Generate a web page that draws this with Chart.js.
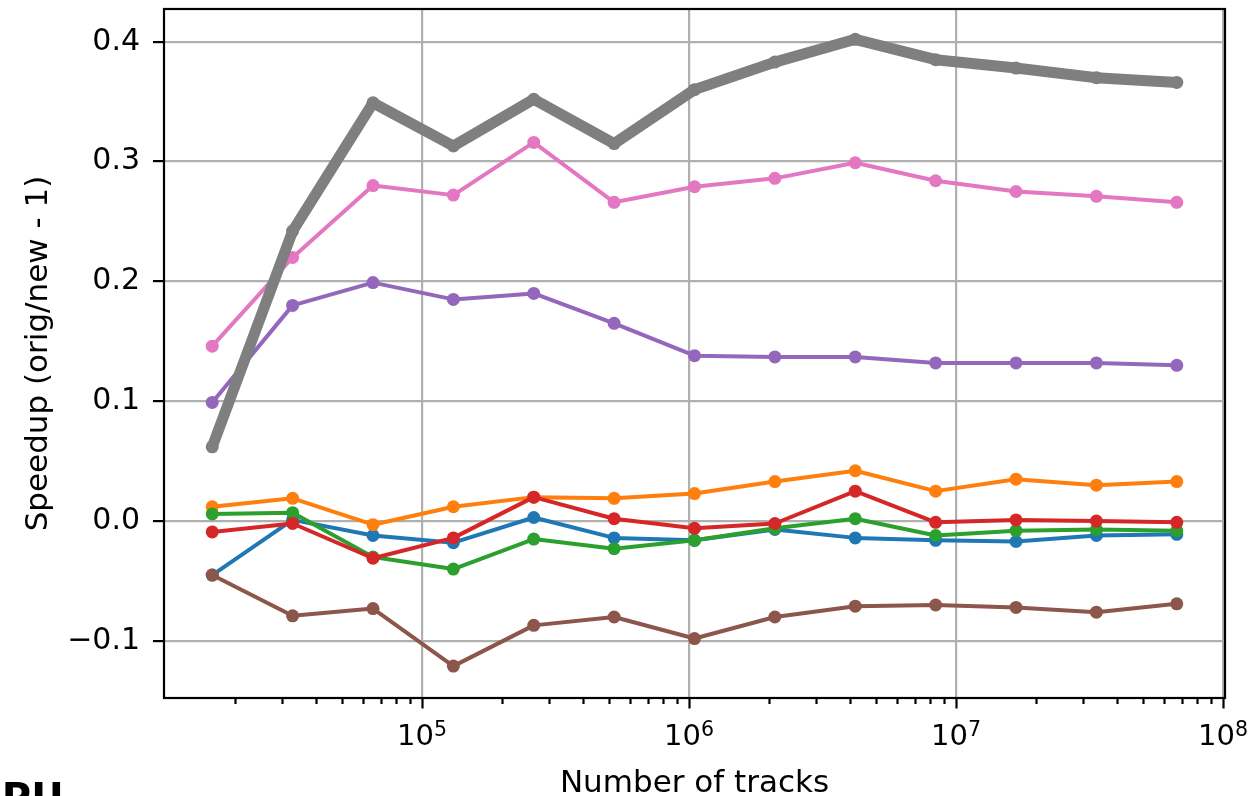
<!DOCTYPE html>
<html>
<head>
<meta charset="utf-8">
<script src="https://cdn.jsdelivr.net/npm/chart.js@4/dist/chart.umd.min.js"></script>
<style>
  html, body { margin: 0; padding: 0; background: #ffffff; overflow: hidden; }
  #wrap { position: relative; width: 1252px; height: 796px; }
</style>
</head>
<body>
<div id="wrap"><canvas id="chart" width="1252" height="796"></canvas></div>
<script>
// Problem sizes (number of tracks), 2^14 .. 2^26
const trackCounts = [16384, 32768, 65536, 131072, 262144, 524288, 1048576,
                     2097152, 4194304, 8388608, 16777216, 33554432, 67108864];

// Speedup (orig/new - 1) per variant
const blueSeries   = [-0.045, 0.001, -0.012, -0.018, 0.003, -0.014, -0.016, -0.007, -0.014, -0.016, -0.017, -0.012, -0.011];
const orangeSeries = [0.012, 0.019, -0.003, 0.012, 0.020, 0.019, 0.023, 0.033, 0.042, 0.025, 0.035, 0.030, 0.033];
const greenSeries  = [0.006, 0.007, -0.030, -0.040, -0.015, -0.023, -0.016, -0.006, 0.002, -0.012, -0.008, -0.007, -0.008];
const redSeries    = [-0.009, -0.002, -0.031, -0.014, 0.020, 0.002, -0.006, -0.002, 0.025, -0.001, 0.001, 0.000, -0.001];
const purpleSeries = [0.099, 0.180, 0.199, 0.185, 0.190, 0.165, 0.138, 0.137, 0.137, 0.132, 0.132, 0.132, 0.130];
const brownSeries  = [-0.045, -0.079, -0.073, -0.121, -0.087, -0.080, -0.098, -0.080, -0.071, -0.070, -0.072, -0.076, -0.069];
const pinkSeries   = [0.146, 0.220, 0.280, 0.272, 0.316, 0.266, 0.279, 0.286, 0.299, 0.284, 0.275, 0.271, 0.266];
const graySeries   = [0.062, 0.242, 0.349, 0.313, 0.352, 0.315, 0.360, 0.383, 0.402, 0.385, 0.378, 0.370, 0.366];

// Axis tick values
const yTickValues = [-0.1, 0.0, 0.1, 0.2, 0.3, 0.4];
const xDecadeExponents = [5, 6, 7, 8];

const palette = ['#1f77b4', '#ff7f0e', '#2ca02c', '#d62728', '#9467bd', '#8c564b', '#e377c2', '#7f7f7f'];
const allSeries = [blueSeries, orangeSeries, greenSeries, redSeries, purpleSeries, brownSeries, pinkSeries, graySeries];

const X_MIN = Math.pow(10, 4.0338);
const X_MAX = Math.pow(10, 8.0074);
const Y_MIN = -0.1476;
const Y_MAX = 0.4273;

const FONT = '"DejaVu Sans", sans-serif';

// log-axis ticks: major at each decade, minor at 2..9 x decade
function buildLogTicks() {
  const ticks = [];
  for (let e = 4; e <= 8; e++) {
    for (let k = 1; k <= 9; k++) {
      const v = k * Math.pow(10, e);
      if (v >= X_MIN && v <= X_MAX) ticks.push({ value: v, major: k === 1 });
    }
  }
  return ticks;
}

const datasets = allSeries.map((vals, i) => {
  const heavy = i === 7;
  return {
    label: 'series' + i,
    data: trackCounts.map((x, j) => ({ x: x, y: vals[j] })),
    borderColor: palette[i],
    backgroundColor: palette[i],
    borderWidth: heavy ? 11 : 4,
    pointRadius: 6.5,
    pointHoverRadius: 6.5,
    pointBorderWidth: 0,
    pointBackgroundColor: palette[i],
    borderJoinStyle: 'round',
    borderCapStyle: 'butt',
    tension: 0,
    order: 7 - i
  };
});

const framePlugin = {
  id: 'frame',
  afterDraw(chart) {
    const ctx = chart.ctx;
    const a = chart.chartArea;
    const xs = chart.scales.x;
    ctx.save();

    // minor/major tick marks on the log axis
    ctx.strokeStyle = '#000';
    ctx.lineWidth = 2.2;
    buildLogTicks().forEach(t => {
      const px = Math.round(xs.getPixelForValue(t.value)) + 0.5;
      const len = t.major ? 10.5 : 6;
      ctx.beginPath();
      ctx.moveTo(px, a.bottom);
      ctx.lineTo(px, a.bottom + len);
      ctx.stroke();
    });

    // axes frame
    ctx.lineWidth = 2.2;
    ctx.strokeStyle = '#000';
    ctx.strokeRect(a.left, a.top, a.right - a.left, a.bottom - a.top);

    // decade labels 10^n
    ctx.fillStyle = '#000';
    ctx.textBaseline = 'alphabetic';
    xDecadeExponents.forEach(e => {
      const px = xs.getPixelForValue(Math.pow(10, e));
      ctx.font = '29px ' + FONT;
      const base = '10';
      const wb = ctx.measureText(base).width;
      ctx.font = '20.5px ' + FONT;
      const sup = String(e);
      const ws = ctx.measureText(sup).width;
      const x0 = px - (wb + ws) / 2;
      ctx.font = '29px ' + FONT;
      ctx.textAlign = 'left';
      ctx.fillText(base, x0, a.bottom + 47);
      ctx.font = '20.5px ' + FONT;
      ctx.fillText(sup, x0 + wb, a.bottom + 38);
    });

    // axis titles
    ctx.font = '31px ' + FONT;
    ctx.textAlign = 'center';
    ctx.textBaseline = 'alphabetic';
    ctx.fillText('Number of tracks', (a.left + a.right) / 2, 792);

    ctx.save();
    ctx.translate(47, (a.top + a.bottom) / 2);
    ctx.rotate(-Math.PI / 2);
    ctx.fillText('Speedup (orig/new - 1)', 0, 0);
    ctx.restore();

    // neighbouring panel heading, mostly outside the canvas
    ctx.font = 'bold 40px ' + FONT;
    ctx.textAlign = 'left';
    ctx.fillText('GPU', -31, 812);

    ctx.restore();
  }
};

new Chart(document.getElementById('chart'), {
  type: 'line',
  data: { datasets: datasets },
  options: {
    responsive: false,
    animation: false,
    events: [],
    layout: { padding: { top: 9, right: 27, bottom: 0, left: 0 } },
    plugins: { legend: { display: false }, tooltip: { enabled: false } },
    scales: {
      x: {
        type: 'logarithmic',
        min: X_MIN,
        max: X_MAX,
        afterBuildTicks: axis => { axis.ticks = buildLogTicks(); },
        ticks: { display: false },
        grid: {
          color: c => (c.tick && c.tick.major) ? '#b0b0b0' : 'rgba(0,0,0,0)',
          lineWidth: 2.2,
          drawTicks: false
        },
        border: { display: false },
        afterFit: s => { s.height = 98; s.paddingLeft = 0; s.paddingRight = 0; }
      },
      y: {
        type: 'linear',
        min: Y_MIN,
        max: Y_MAX,
        afterBuildTicks: axis => { axis.ticks = yTickValues.map(v => ({ value: v })); },
        ticks: {
          color: '#000',
          font: { family: FONT, size: 30 },
          padding: 13,
          callback: v => {
            const r = Math.round(v * 10) / 10;
            return (r < 0 ? '\u2212' : '') + Math.abs(r).toFixed(1);
          }
        },
        grid: {
          color: '#b0b0b0',
          lineWidth: 2.2,
          tickColor: '#000',
          tickLength: 11,
          tickWidth: 2.2
        },
        border: { display: false },
        afterFit: s => { s.width = 164; s.paddingTop = 0; s.paddingBottom = 0; }
      }
    }
  },
  plugins: [framePlugin]
});
</script>
</body>
</html>
